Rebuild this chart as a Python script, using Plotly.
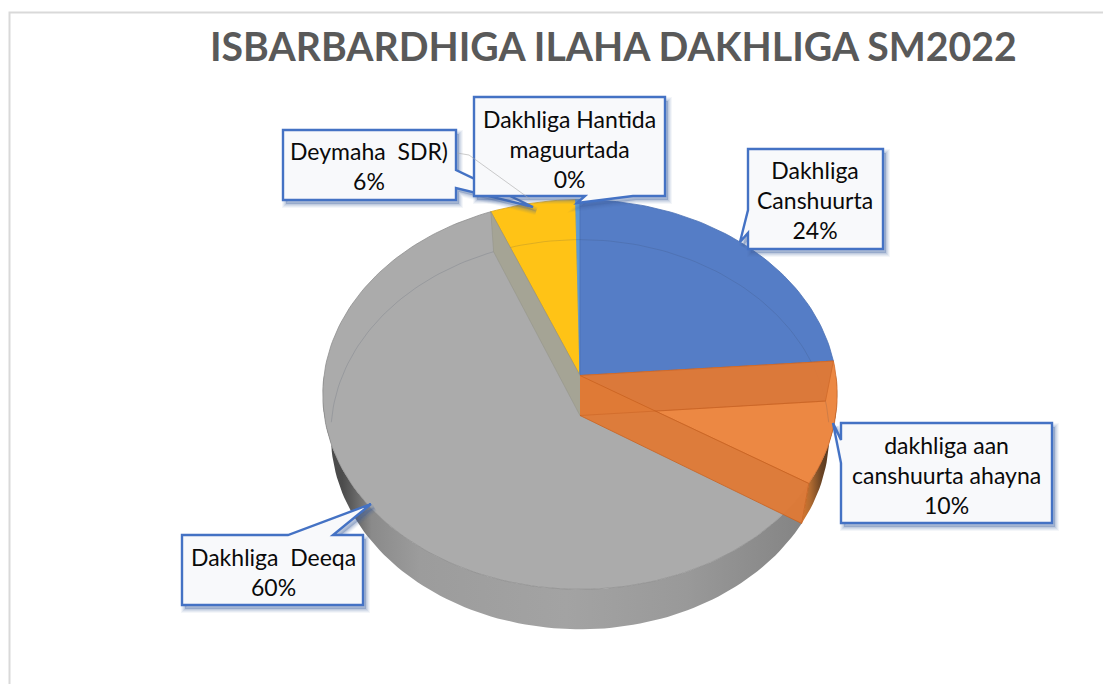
import math
import plotly.graph_objects as go

# ---------- data ----------
categories = ["Dakhliga Canshuurta", "dakhliga aan canshuurta ahayna", "Dakhliga Deeqa",
              "Deymaha SDR)", "Dakhliga Hantida maguurtada"]
values = [23.8, 10.1, 59.9, 5.9, 0.3]
label_lines = ["Dakhliga<br>Canshuurta", "dakhliga aan<br>canshuurta ahayna", "Dakhliga\u00a0 Deeqa",
               "Deymaha\u00a0 SDR)", "Dakhliga Hantida<br>maguurtada"]
top_colors = ["#557DC6", "#EC8843", "#ABABAB", "#FFC316", "#5B9BD5"]
edge_colors = ["#4A70B4", "#CF6A2A", "#8F8F8F", "#D9A212", "#5B9BD5"]
title = "ISBARBARDHIGA ILAHA DAKHLIGA SM2022"

# ---------- projection of the tilted disc into the pixel-scaled axes ----------
CX, CY, DEPTH, A, B, K = 580, 375.5, 40, 193, 256, 0.0974


def proj(theta_deg, r=1.0, z=0.0):
    t = math.radians(theta_deg)
    u, v = r * math.sin(t), r * math.cos(t)
    w = 1 + K * v
    return CX + (B - 8 * z) * u / w, CY + DEPTH * z - A * v / w


def arc(a, b, z=0.0, n=None):
    n = n or max(2, int(abs(b - a) / 1.5) + 1)
    return [proj(a + (b - a) * i / (n - 1), 1.0, z) for i in range(n)]


fig = go.Figure()


def poly(pts, fill, line=None, width=1.0):
    fig.add_trace(go.Scatter(x=[p[0] for p in pts], y=[p[1] for p in pts], mode="lines",
                             fill="toself", fillcolor=fill,
                             line=dict(color=line or fill, width=width),
                             hoverinfo="skip", showlegend=False))


def stroke(pts, color, width=1.0):
    fig.add_trace(go.Scatter(x=[p[0] for p in pts], y=[p[1] for p in pts], mode="lines",
                             line=dict(color=color, width=width), hoverinfo="skip", showlegend=False))


def gradient_wall(a, b, scale):
    pts = arc(a, b) + arc(b, a, 1)
    fig.add_trace(go.Scatter(x=[p[0] for p in pts], y=[p[1] for p in pts], mode="lines",
                             fill="toself", fillgradient=dict(type="horizontal", colorscale=scale),
                             line=dict(width=0), hoverinfo="skip", showlegend=False))


# slice boundaries (clockwise from 12 o'clock)
bounds = [0.0]
for v in values:
    bounds.append(bounds[-1] + v * 3.6)

# outer wall (front half), shaded from left to right
gradient_wall(bounds[2], 270, [(0.0, "#484848"), (0.04, "#4C4C4C"), (0.06, "#5E5E5E"), (0.10, "#8A8A8A"),
                               (0.20, "#9C9C9C"), (0.50, "#A3A3A3"), (0.75, "#999999"), (1.0, "#838383")])
gradient_wall(90, bounds[2], [(0.0, "#D8772F"), (0.25, "#B06A30"), (0.55, "#6B4424"), (1.0, "#3F2A18")])

# top faces, gray first so that the others lie over it
for i in [2, 3, 4, 0, 1]:
    a, b = bounds[i], bounds[i + 1]
    poly([proj(0, 0)] + arc(a, b) + [proj(0, 0)], top_colors[i], edge_colors[i], 0.8)

# far rim of the lower disc showing through
stroke(arc(-92, 92, 1), "rgba(50,60,90,0.16)", 1)

# cut walls visible through the slices
yb = bounds[3]
poly([proj(0, 0), proj(yb), proj(yb, 1, 1), proj(0, 0, 1)], "#A5A495", "#96958A", 0.6)
ob, oe = bounds[1], bounds[2]
poly([proj(0, 0), proj(ob), proj(ob, 1, 1), proj(0, 0, 1)], "rgba(218,120,58,0.95)", "#CF6A2A", 0.8)
poly([proj(0, 0), proj(oe), proj(oe, 1, 1), proj(0, 0, 1)], "rgba(223,122,54,0.96)", "#C9621F", 0.8)
stroke([proj(0, 0, 1), proj(ob, 1, 1)], "rgba(190,90,30,0.35)", 1)

# ---------- callouts ----------
shapes = []
BORDER = "#4472C4"


def path_of(pts, dx=0, dy=0):
    return "M " + " L ".join(f"{x + dx} {y + dy}" for x, y in pts) + " Z"


def callout(pts):
    for grow, alpha in ((8, 0.06), (6, 0.08), (4, 0.10), (2, 0.13)):
        shapes.append(dict(type="path", path=path_of(pts, 3, 4), xref="x", yref="y",
                           fillcolor=f"rgba(68,100,160,{alpha})",
                           line=dict(color=f"rgba(68,100,160,{alpha})", width=grow)))
    shapes.append(dict(type="path", path=path_of(pts), xref="x", yref="y", fillcolor="#F8F9FB",
                       line=dict(color=BORDER, width=2.4)))


callouts = {
    0: [(748, 149), (883, 149), (883, 249), (748, 249), (748, 233), (740, 242), (748, 210)],
    1: [(841, 423), (1052, 423), (1052, 523), (841, 523), (841, 463), (833, 423), (841, 440)],
    2: [(182, 535), (288, 535), (371, 504), (333, 535), (363, 535), (363, 605), (182, 605)],
    3: [(283, 130), (456, 130), (456, 170), (533, 207), (456, 188), (456, 200), (283, 200)],
    4: [(474, 97), (665, 97), (665, 196), (633, 196), (577, 203), (585, 196), (474, 196)],
}
for i in [0, 1, 2, 3, 4]:
    callout(callouts[i])

# thin leader of the smallest slice
shapes.append(dict(type="path", path="M 457 153 L 469 155 L 530 199", xref="x", yref="y",
                   line=dict(color="rgba(170,170,170,0.6)", width=1)))

# frame
shapes.append(dict(type="path", path="M 9.5 684 L 9.5 12.5 L 1103 12.5", xref="x", yref="y",
                   line=dict(color="#D9D9D9", width=2)))

label_pos = {0: (815, 200), 1: (946, 475), 2: (273, 572), 3: (369, 166), 4: (569, 149)}
annotations = [dict(x=label_pos[i][0], y=label_pos[i][1], xref="x", yref="y", showarrow=False,
                    text=f"{label_lines[i]}<br>{round(values[i])}%", align="center",
                    font=dict(family="Lato", size=23, color="#0A0A0A"))
               for i in range(len(values))]
annotations.append(dict(x=613, y=45, xref="x", yref="y", showarrow=False, text=f"<b>{title}</b>",
                        font=dict(family="Lato", size=39.2, color="#595959")))

fig.update_layout(width=1103, height=684, margin=dict(l=0, r=0, t=0, b=0),
                  paper_bgcolor="white", plot_bgcolor="white", showlegend=False,
                  xaxis=dict(range=[0, 1103], visible=False),
                  yaxis=dict(range=[684, 0], visible=False),
                  shapes=shapes, annotations=annotations)
fig.write_html("out.html", config=dict(displayModeBar=False),
               post_script="document.body.style.margin='0';")
